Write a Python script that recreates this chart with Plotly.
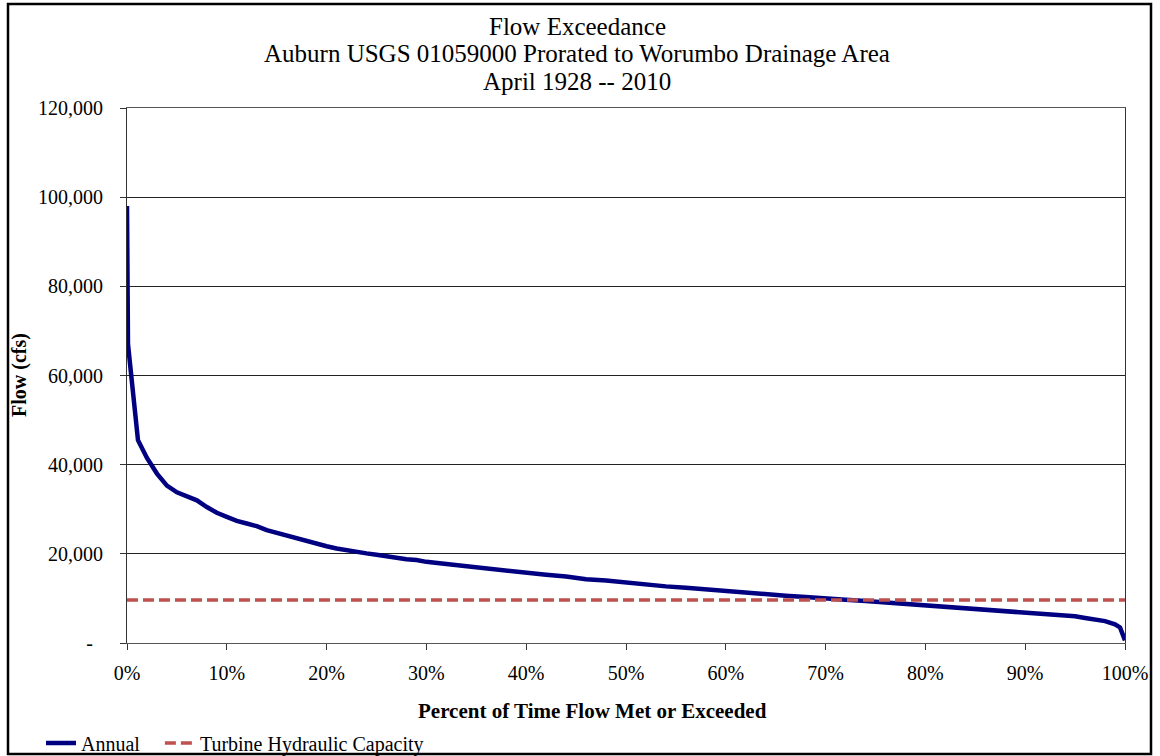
import plotly.graph_objects as go

# Data
pct_exceeded = [0, 0.1, 1.1, 2, 3, 4, 5, 6, 7, 8, 9, 10, 11, 12, 13, 14, 15, 16, 17, 18, 19, 20,
                21, 22, 23, 24, 25, 26, 27, 28, 29, 30, 32, 34, 36, 38, 40, 42, 44, 46, 48, 50,
                52, 54, 56, 58, 60, 62, 64, 66, 68, 70, 72, 74, 76, 78, 80, 82, 84, 86, 88, 90,
                92, 94, 95, 96, 97, 98, 99, 99.5, 100]
annual_flow = [98000, 67000, 45500, 41500, 38000, 35300, 33800, 33000, 32000, 30500, 29200, 28300,
               27400, 26800, 26200, 25300, 24700, 23900, 23400, 22900, 22300, 21700,
               21200, 20800, 20300, 20100, 19800, 19400, 19200, 18800, 18600, 18200, 17700, 17200,
               16700, 16100, 15800, 15300, 14900, 14300, 14000, 13500,
               13100, 12700, 12400, 12000, 11700, 11200, 11000, 10600, 10300, 10100, 9700, 9400,
               9100, 8800, 8400, 8100, 7800, 7500, 7200, 6900,
               6600, 6300, 6000, 5600, 5200, 4900, 4200, 3500, 600]
capacity_x = [0, 100]
capacity_flow = [9650, 9650]

x_tick_vals = [0, 10, 20, 30, 40, 50, 60, 70, 80, 90, 100]
x_tick_text = ["0%", "10%", "20%", "30%", "40%", "50%", "60%", "70%", "80%", "90%", "100%"]
y_tick_vals = [0, 20000, 40000, 60000, 80000, 100000, 120000]
y_tick_text = ["-\u00a0\u00a0", "20,000", "40,000", "60,000", "80,000", "100,000", "120,000"]

title_lines = ["Flow Exceedance",
               "Auburn USGS 01059000 Prorated to Worumbo Drainage Area",
               "April 1928 -- 2010"]

FONT = "Liberation Serif, Times New Roman, serif"
W, H = 1160, 756
L, R, T, B = 127, 1125, 108, 643
pw, ph = R - L, B - T

def px_x(p):
    return (p - L) / pw

def px_y(p):
    return (B - p) / ph

fig = go.Figure()
fig.add_trace(go.Scatter(x=pct_exceeded, y=annual_flow, mode="lines", name="Annual\u00a0\u00a0\u00a0",
                         line=dict(color="#000080", width=4.5)))
fig.add_trace(go.Scatter(x=capacity_x, y=capacity_flow, mode="lines", name="Turbine Hydraulic Capacity",
                         line=dict(color="#C0504D", width=3.5, dash="11px,5px")))

annotations = []
for txt, yc in zip(title_lines, [27, 54, 81]):
    annotations.append(dict(text=txt, x=px_x(577), y=px_y(yc), xref="paper", yref="paper",
                            xanchor="center", yanchor="middle", showarrow=False,
                            font=dict(family=FONT, size=25, color="black")))
annotations.append(dict(text="<b>Percent of Time Flow Met or Exceeded</b>", x=px_x(592), y=px_y(711),
                        xref="paper", yref="paper", xanchor="center", yanchor="middle",
                        showarrow=False, font=dict(family=FONT, size=21, color="black")))
annotations.append(dict(text="<b>Flow (cfs)</b>", x=px_x(19), y=px_y(375),
                        xref="paper", yref="paper", xanchor="center", yanchor="middle",
                        showarrow=False, textangle=-90, font=dict(family=FONT, size=20, color="black")))

fig.update_layout(
    width=W, height=H,
    margin=dict(l=L, r=W - R, t=T, b=H - B, pad=0, autoexpand=False),
    paper_bgcolor="white", plot_bgcolor="white",
    font=dict(family=FONT, size=20, color="black"),
    showlegend=True,
    legend=dict(orientation="h", x=px_x(41), y=px_y(743), xanchor="left", yanchor="middle",
                font=dict(family=FONT, size=20, color="black"), bgcolor="rgba(0,0,0,0)",
                tracegroupgap=0),
    annotations=annotations,
    shapes=[dict(type="rect", xref="paper", yref="paper",
                 x0=px_x(8), x1=px_x(1151), y0=px_y(754), y1=px_y(4),
                 line=dict(color="black", width=2.5), fillcolor="rgba(0,0,0,0)", layer="above")],
)
fig.update_xaxes(range=[0, 100], tickvals=x_tick_vals, ticktext=x_tick_text,
                 showgrid=False, zeroline=False, showline=True, linecolor="#555555", linewidth=1,
                 mirror=True, ticks="outside", ticklen=6, tickcolor="#333333",
                 tickfont=dict(family=FONT, size=20, color="black"), ticklabelstandoff=6)
fig.update_yaxes(range=[0, 120000], tickvals=y_tick_vals, ticktext=y_tick_text,
                 showgrid=True, gridcolor="#222222", gridwidth=1, zeroline=False,
                 showline=True, linecolor="#333333", linewidth=1, mirror=True,
                 ticks="outside", ticklen=6, tickcolor="#333333",
                 tickfont=dict(family=FONT, size=20, color="black"), ticklabelstandoff=13)

fig.write_html("out.html", config={"displayModeBar": False},
               post_script="document.body.style.margin='0';")
